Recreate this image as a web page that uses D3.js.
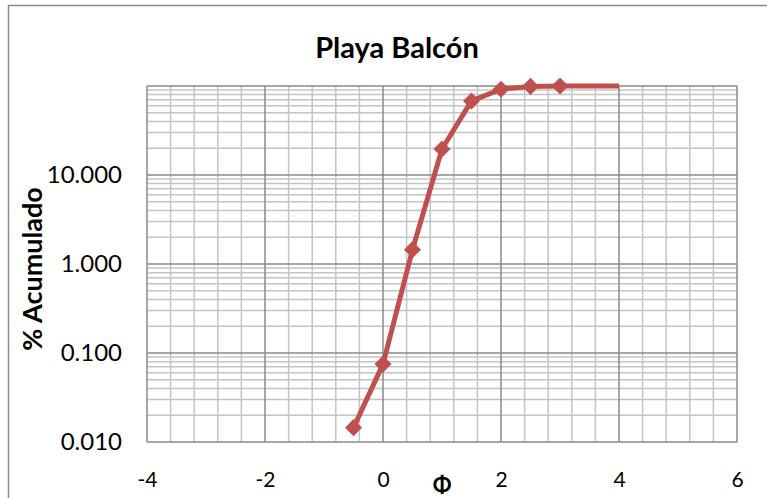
<!DOCTYPE html>
<html><head><meta charset="utf-8">
<script src="https://cdn.jsdelivr.net/npm/d3@7"></script>
<style>body{margin:0;background:#fff}svg{display:block}</style>
</head><body>
<script>
const title = "Playa Balcón";
const xLabel = "Φ";
const yLabel = "% Acumulado";
const phi = [-0.5, 0, 0.5, 1, 1.5, 2, 2.5, 3, 3.5, 4];
const acum = [0.0145, 0.075, 1.45, 19.6, 68, 92, 99, 100, 100, 100];
const hasMarker = [true, true, true, true, true, true, true, true, false, false];
const xTicks = [-4, -2, 0, 2, 4, 6];
const yTicks = [0.01, 0.1, 1, 10];

const W = 767, H = 498;
const svg = d3.select("body").append("svg").attr("width", W).attr("height", H);
const font = "Lato, 'Open Sans', sans-serif";

svg.append("rect").attr("x", 8.5).attr("y", 5.5).attr("width", 800).attr("height", 600)
  .attr("fill", "#fff").attr("stroke", "#8c8c8c").attr("stroke-width", 1.5);

const x = d3.scaleLinear().domain([-4, 6]).range([147, 737]);
const y = d3.scaleLog().domain([0.01, 100]).range([442, 86]);

const g = svg.append("g");
const xMinor = d3.range(-4, 6.001, 0.4).filter(v => Math.abs(v / 2 - Math.round(v / 2)) > 1e-6);
g.selectAll(".vx").data(xMinor).enter().append("line")
  .attr("x1", d => x(d)).attr("x2", d => x(d)).attr("y1", y(100)).attr("y2", y(0.01))
  .attr("stroke", "#c4c4c4").attr("stroke-width", 1.5);
const yMinor = [];
[0.01, 0.1, 1, 10].forEach(dec => { for (let k = 2; k <= 9; k++) yMinor.push(dec * k); });
g.selectAll(".hy").data(yMinor).enter().append("line")
  .attr("x1", x(-4)).attr("x2", x(6)).attr("y1", d => y(d)).attr("y2", d => y(d))
  .attr("stroke", "#c4c4c4").attr("stroke-width", 1.5);
g.selectAll(".mx").data(xTicks).enter().append("line")
  .attr("x1", d => x(d)).attr("x2", d => x(d)).attr("y1", y(100)).attr("y2", y(0.01))
  .attr("stroke", "#8a8a8a").attr("stroke-width", 1.5);
g.selectAll(".my").data([0.01, 0.1, 1, 10, 100]).enter().append("line")
  .attr("x1", x(-4)).attr("x2", x(6)).attr("y1", d => y(d)).attr("y2", d => y(d))
  .attr("stroke", "#8a8a8a").attr("stroke-width", 1.5);

const xAxis = svg.append("g").attr("transform", `translate(0,${y(0.01)})`)
  .call(d3.axisBottom(x).tickValues(xTicks).tickSize(0).tickPadding(30).tickFormat(d3.format("d")));
xAxis.select(".domain").remove();
xAxis.selectAll("text").attr("font-family", font).attr("font-size", 21).attr("fill", "#000")
  .text(d => d < 0 ? "-" + Math.abs(d) : d);
const yAxis = svg.append("g").attr("transform", `translate(${x(-4)},0)`)
  .call(d3.axisLeft(y).tickValues(yTicks).tickSize(0).tickPadding(25).tickFormat(d3.format(".3f")));
yAxis.select(".domain").remove();
yAxis.selectAll("text").attr("font-family", font).attr("font-size", 24).attr("fill", "#000");

const line = d3.line().x((d, i) => x(phi[i])).y((d, i) => y(acum[i]));
svg.append("path").datum(acum).attr("d", line).attr("fill", "none")
  .attr("stroke", "#C0504D").attr("stroke-width", 5).attr("stroke-linejoin", "round");
const mk = phi.map((p, i) => ({ p, v: acum[i], m: hasMarker[i] })).filter(d => d.m);
svg.selectAll(".mk").data(mk).enter().append("path")
  .attr("d", d3.symbol().type(d3.symbolDiamond2).size(185))
  .attr("transform", d => `translate(${x(d.p)},${y(d.v)})`)
  .attr("fill", "#C0504D");

svg.append("text").attr("x", 397).attr("y", 58).attr("text-anchor", "middle")
  .attr("font-family", font).attr("font-weight", "bold").attr("font-size", 29).text(title);
svg.append("text").attr("x", 442).attr("y", 493).attr("text-anchor", "middle")
  .attr("font-family", font).attr("font-weight", "bold").attr("font-size", 22).text(xLabel);
svg.append("text").attr("transform", "translate(42,269) rotate(-90)").attr("text-anchor", "middle")
  .attr("font-family", font).attr("font-weight", "bold").attr("font-size", 27).text(yLabel);
</script>
</body></html>
